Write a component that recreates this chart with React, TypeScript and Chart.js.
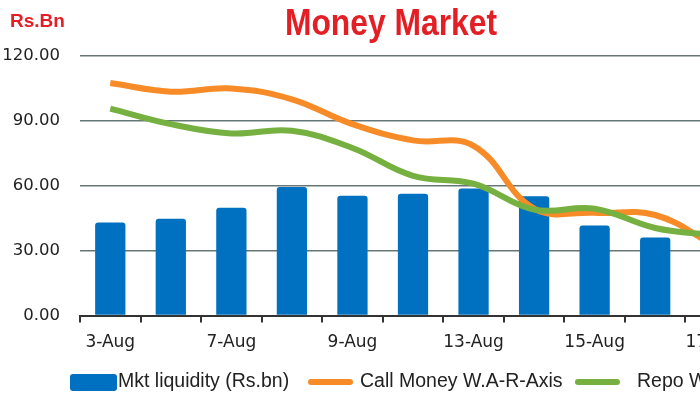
import React, { useEffect, useRef } from 'react';
import { Chart, registerables } from 'chart.js';
Chart.register(...registerables);

const categories = ['3-Aug', '6-Aug', '7-Aug', '8-Aug', '9-Aug', '10-Aug', '13-Aug', '14-Aug', '15-Aug', '16-Aug', '17-Aug'];
const liquidity = [43.0, 44.8, 49.8, 59.5, 55.4, 56.3, 58.8, 55.2, 41.6, 36.1, 34.0];
const callMoney = [107.5, 103.5, 105.0, 100.0, 88.5, 81.0, 78.5, 49.5, 47.5, 46.5, 32.0];
const repo = [95.7, 88.5, 84.2, 85.4, 77.5, 64.6, 61.0, 49.0, 49.4, 40.5, 37.0];
const yTicks = [0, 30, 60, 90, 120];

const BLUE = '#0070C0';
const ORANGE = '#F68B28';
const GREEN = '#76B041';
const RED = '#E31E24';

export default function App() {
  const ref = useRef<HTMLCanvasElement>(null);
  useEffect(() => {
    const chart = new Chart(ref.current!, {
      type: 'bar',
      data: {
        labels: categories,
        datasets: [
          {
            type: 'line',
            label: 'Repo W.A-R-Axis',
            data: repo,
            borderColor: GREEN,
            backgroundColor: GREEN,
            borderWidth: 6,
            pointRadius: 0,
            tension: 0.4,
            fill: false,
            order: 0,
          } as any,
          {
            type: 'line',
            label: 'Call Money W.A-R-Axis',
            data: callMoney,
            borderColor: ORANGE,
            backgroundColor: ORANGE,
            borderWidth: 6,
            pointRadius: 0,
            tension: 0.4,
            fill: false,
            order: 1,
          } as any,
          {
            type: 'bar',
            label: 'Mkt liquidity (Rs.bn)',
            data: liquidity,
            backgroundColor: BLUE,
            borderRadius: 3,
            borderSkipped: 'start',
            categoryPercentage: 1,
            barPercentage: 0.5,
            order: 2,
          } as any,
        ],
      },
      options: {
        responsive: false,
        animation: false,
        layout: { padding: { top: 56, left: 4, right: 36, bottom: 37 } },
        plugins: {
          legend: { display: false },
          title: { display: false },
          tooltip: { enabled: false },
        },
        scales: {
          x: {
            offset: true,
            grid: {
              offset: true,
              drawOnChartArea: false,
              drawTicks: true,
              tickLength: 7,
              color: '#333',
              lineWidth: 2,
            },
            border: { color: '#333', width: 2 },
            ticks: {
              autoSkip: false,
              maxRotation: 0,
              color: '#222',
              padding: 10,
              font: { family: 'DejaVu Sans', size: 17 },
              callback: (_v: any, i: number) => (i % 2 === 0 ? categories[i] : ''),
            },
          },
          y: {
            min: 0,
            max: 120,
            afterBuildTicks: (scale: any) => {
              scale.ticks = yTicks.map((v) => ({ value: v }));
            },
            afterFit: (scale: any) => {
              scale.width = 76;
            },
            grid: { color: '#667676', lineWidth: 1.5, drawTicks: false },
            border: { display: false },
            ticks: {
              padding: 20,
              color: '#222',
              font: { family: 'DejaVu Sans', size: 16.5 },
              callback: (v: any) => Number(v).toFixed(2),
            },
          },
        },
      } as any,
    });
    return () => chart.destroy();
  }, []);

  const legendText: React.CSSProperties = {
    position: 'absolute',
    top: 370,
    fontFamily: '"Liberation Sans", Arial, sans-serif',
    fontSize: 19.5,
    lineHeight: '20px',
    color: '#222',
    whiteSpace: 'nowrap',
  };

  return (
    <div
      style={{
        position: 'fixed',
        left: 0,
        top: 0,
        width: 700,
        height: 400,
        overflow: 'hidden',
        background: '#fff',
      }}
    >
      <div style={{ position: 'relative', width: 782, height: 400 }}>
        <canvas ref={ref} width={782} height={400} style={{ display: 'block' }} />
        <div
          style={{
            position: 'absolute',
            left: 0,
            top: 4,
            width: 782,
            textAlign: 'center',
            fontFamily: '"Liberation Sans", Arial, sans-serif',
            fontWeight: 'bold',
            fontSize: 37,
            lineHeight: '37px',
            color: RED,
            transform: 'scaleX(0.86)',
            transformOrigin: '391px 0',
          }}
        >
          Money Market
        </div>
        <div
          style={{
            position: 'absolute',
            left: 10,
            top: 11,
            fontFamily: '"Liberation Sans", Arial, sans-serif',
            fontWeight: 'bold',
            fontSize: 19,
            lineHeight: '19px',
            color: RED,
          }}
        >
          Rs.Bn
        </div>
        <div style={{ position: 'absolute', left: 70, top: 374, width: 47, height: 17, background: BLUE, borderRadius: 3 }} />
        <div style={{ ...legendText, left: 118 }}>Mkt liquidity (Rs.bn)</div>
        <div style={{ position: 'absolute', left: 308, top: 379, width: 45, height: 6, background: ORANGE, borderRadius: 3 }} />
        <div style={{ ...legendText, left: 360 }}>Call Money W.A-R-Axis</div>
        <div style={{ position: 'absolute', left: 575, top: 379, width: 45, height: 6, background: GREEN, borderRadius: 3 }} />
        <div style={{ ...legendText, left: 637 }}>Repo W.A-R-Axis</div>
      </div>
    </div>
  );
}
